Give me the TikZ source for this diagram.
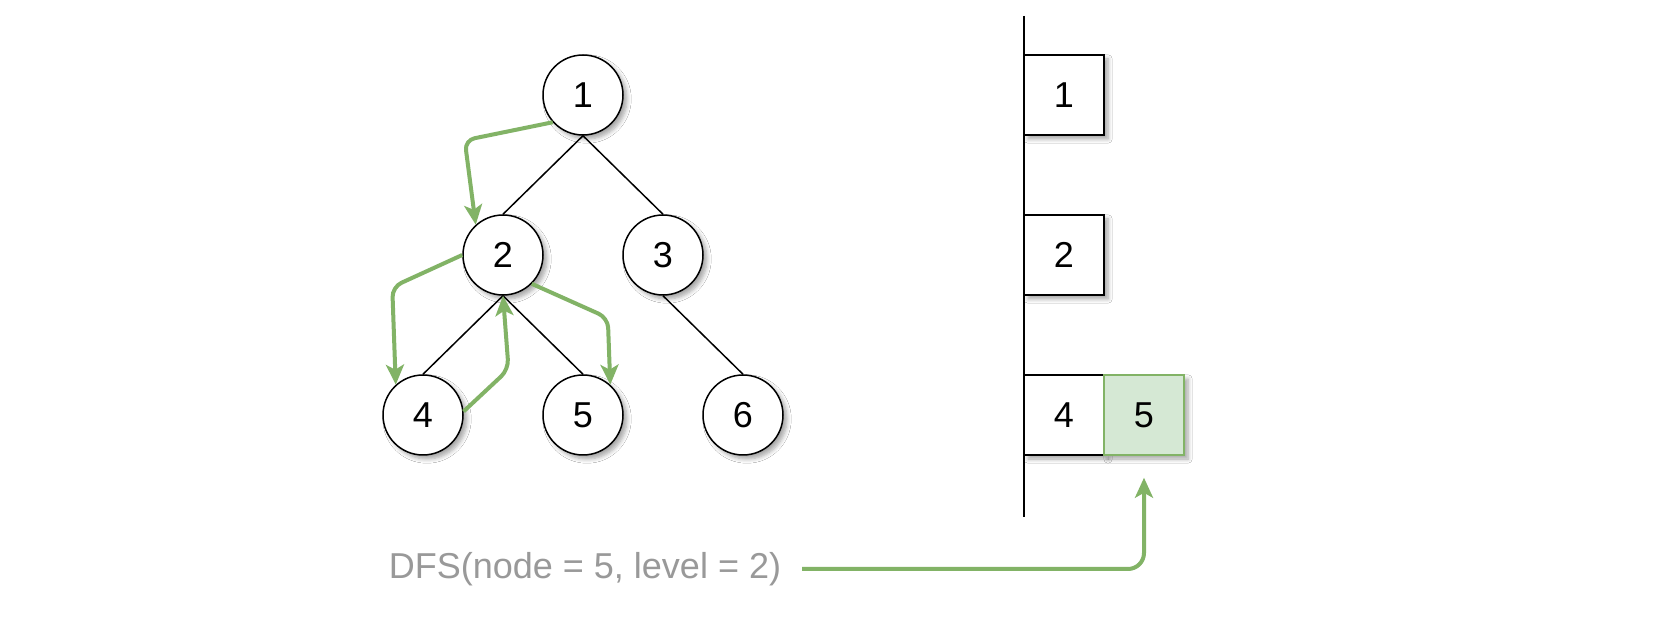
\documentclass[tikz,border=0pt]{standalone}
\usepackage{fontspec}
\setmainfont{Liberation Sans}
\usepackage{xcolor}
\usetikzlibrary{arrows.meta,positioning,shadows.blur}
\definecolor{walkgreen}{HTML}{82B366}
\definecolor{walkfill}{HTML}{D5E8D4}
\definecolor{callgray}{HTML}{999999}
\tikzset{
  softshadow/.style={blur shadow={shadow xshift=2pt, shadow yshift=-2pt, shadow blur steps=6, shadow opacity=35}},
  treenode/.style={circle, draw, line width=0.75pt, fill=white, minimum size=40pt, inner sep=0pt, font=\fontsize{18}{18}\selectfont, softshadow},
  cell/.style={rectangle, draw, line width=0.75pt, fill=white, minimum size=40pt, inner sep=0pt, font=\fontsize{18}{18}\selectfont, softshadow},
  edge/.style={line width=0.75pt},
  walk/.style={draw=walkgreen, line width=2pt, rounded corners=5pt, -{Stealth[length=10pt, width=9pt, inset=2.5pt]}},
}
\begin{document}
\begin{tikzpicture}[x=0.5pt, y=-0.5pt, >=Stealth, node distance=80pt and 40pt, on grid]
  \useasboundingbox[fill=white] (0,0) rectangle (1678,630);

  \node[treenode] (n1) at (583,95) {1};
  \node[treenode, below left=of n1] (n2) {2};
  \node[treenode, below right=of n1] (n3) {3};
  \node[treenode, below left=of n2] (n4) {4};
  \node[treenode, below right=of n2] (n5) {5};
  \node[treenode, below right=of n3] (n6) {6};

  \draw[edge] (n1.south) -- (n2.north);
  \draw[edge] (n1.south) -- (n3.north);
  \draw[edge] (n2.south) -- (n4.north);
  \draw[edge] (n2.south) -- (n5.north);
  \draw[edge] (n3.south) -- (n6.north);

  \draw[walk] (n1.222) -- ++(-88,18) -- (n2.132);
  \draw[walk] (n2.180) -- ++(-70,32) -- (n4.132);
  \draw[walk] (n4.5) -- ++(45,-42) -- (n2.south);
  \draw[walk] (n2.-45) -- ++(76,34) -- (n5.48);

  \coordinate (top) at (1024,16);
  \coordinate (bot) at (1024,517);
  \draw[edge] (top) -- (bot);
  \node[cell] (s1) at (1064,95) {1};
  \node[cell, below=of s1] (s2) {2};
  \node[cell, below=of s2] (s4) {4};
  \node[cell, right=of s4, draw=walkgreen, fill=walkfill] (s5) {5};

  \node[text=callgray, font=\fontsize{18}{18}\selectfont] (call) at (585,569) {DFS(node = 5, level = 2)};
  \draw[walk, rounded corners=8pt, shorten <=7pt, shorten >=11pt] (call.east) -- (call.east -| s5) -- (s5.south);
\end{tikzpicture}
\end{document}
